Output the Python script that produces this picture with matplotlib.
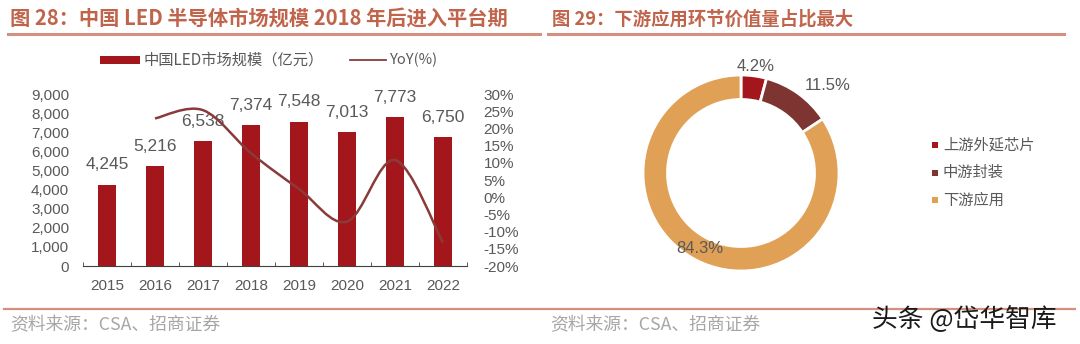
"""
Recreates two report panels: China LED market size (bars + YoY line)
and the value share by industry chain segment (donut).
"""

import matplotlib
matplotlib.use('Agg')
import matplotlib.pyplot as plt
from matplotlib.path import Path
from matplotlib.patches import PathPatch, Rectangle
from matplotlib.lines import Line2D
import numpy as np

# data
years = ['2015', '2016', '2017', '2018', '2019', '2020', '2021', '2022']
market_size = [4245, 5216, 6538, 7374, 7548, 7013, 7773, 6750]
yoy_pct = [None, 22.9, 25.3, 12.8, 2.4, -7.1, 10.8, -13.2]

segments = ['上游外延芯片', '中游封装', '下游应用']
segment_share = [4.2, 11.5, 84.3]

# styling
CJK = ['Noto Sans CJK SC', 'DejaVu Sans']
NUM = ['Liberation Sans', 'DejaVu Sans']
TITLE_COLOR = '#C0644C'
RULE_COLOR = '#D4907E'
TEXT_GRAY = '#595959'
BAR_COLOR = '#A3171C'
LINE_COLOR = '#8B3A3A'
DONUT_COLORS = ['#A3171C', '#7E3532', '#E0A157']

W, H = 1080, 344
fig = plt.figure(figsize=(W / 100, H / 100), dpi=100)


def fx(px):
    return px / W


def fy(py):
    return 1 - py / H


def smooth_path(xs, ys):
    # Catmull-Rom style smoothing drawn as cubic bezier segments
    xs = np.asarray(xs, float)
    ys = np.asarray(ys, float)
    verts = [(xs[0], ys[0])]
    codes = [Path.MOVETO]
    n = len(xs)
    for i in range(n - 1):
        p0 = (xs[max(i - 1, 0)], ys[max(i - 1, 0)])
        p1 = (xs[i], ys[i])
        p2 = (xs[i + 1], ys[i + 1])
        p3 = (xs[min(i + 2, n - 1)], ys[min(i + 2, n - 1)])
        c1 = (p1[0] + (p2[0] - p0[0]) / 6, p1[1] + (p2[1] - p0[1]) / 6)
        c2 = (p2[0] - (p3[0] - p1[0]) / 6, p2[1] - (p3[1] - p1[1]) / 6)
        verts += [c1, c2, p2]
        codes += [Path.CURVE4] * 3
    return Path(verts, codes)


# ---- headers and footers ----
fig.text(fx(10), fy(19), '图 28：中国 LED 半导体市场规模 2018 年后进入平台期',
         family=CJK, fontsize=14.6, fontweight='bold', color=TITLE_COLOR, va='center')
fig.text(fx(552), fy(19), '图 29：下游应用环节价值量占比最大',
         family=CJK, fontsize=13.2, fontweight='bold', color=TITLE_COLOR, va='center')
fig.add_artist(Line2D([fx(8), fx(540)], [fy(34), fy(34)], color=RULE_COLOR, lw=2.2))
fig.add_artist(Line2D([fx(548), fx(1064)], [fy(34), fy(34)], color=RULE_COLOR, lw=2.2))

fig.add_artist(Line2D([fx(4), fx(1075)], [fy(309), fy(309)], color=RULE_COLOR, lw=1.6))
fig.text(fx(10), fy(325), '资料来源：CSA、招商证券', family=CJK, fontsize=12.8,
         color='#A6A6A6', va='center')
fig.text(fx(550), fy(325), '资料来源：CSA、招商证券', family=CJK, fontsize=12.8,
         color='#A6A6A6', va='center')
fig.text(fx(872), fy(320), '头条 @岱华智库', family=CJK, fontsize=18.5,
         color='#1A1A1A', va='center')

# ---- legend for bar chart ----
fig.add_artist(Rectangle((fx(100), fy(64)), fx(40), 8 / H, transform=fig.transFigure,
                         facecolor=BAR_COLOR, edgecolor='none'))
fig.text(fx(144), fy(60), '中国LED市场规模（亿元）', family=CJK, fontsize=11,
         color=TEXT_GRAY, va='center')
fig.add_artist(Line2D([fx(350), fx(386)], [fy(60), fy(60)], color=LINE_COLOR, lw=1.3))
fig.text(fx(390), fy(60), 'YoY(%)', family=CJK, fontsize=10.5, color=TEXT_GRAY, va='center')

# ---- bar + line chart ----
ax = fig.add_axes([fx(83), fy(266), fx(384), 172 / H])
x = np.arange(len(years))
ax.bar(x, market_size, width=0.36, color=BAR_COLOR, zorder=2)
for xi, v in zip(x, market_size):
    ax.text(xi, v + 650, f'{v:,}', ha='center', va='bottom', family=NUM,
            fontsize=12.5, color=TEXT_GRAY, zorder=1)
ax.set_xlim(-0.5, len(years) - 0.5)
ax.set_ylim(0, 9000)
ax.set_yticks(range(0, 9001, 1000))
ax.set_yticklabels([f'{t:,}' for t in range(0, 9001, 1000)])
ax.set_xticks(x)
ax.set_xticklabels(years)
ax.set_xticks(np.arange(-0.5, len(years)), minor=True)
ax.tick_params(axis='x', which='major', length=0, pad=9, labelsize=11, labelcolor=TEXT_GRAY)
ax.tick_params(axis='x', which='minor', length=3, direction='in', color='#404040')
ax.tick_params(axis='y', length=0, pad=10, labelsize=11, labelcolor=TEXT_GRAY)
for lab in ax.get_xticklabels() + ax.get_yticklabels():
    lab.set_family(NUM)
for s in ['top', 'right', 'left']:
    ax.spines[s].set_visible(False)
ax.spines['bottom'].set_color('#404040')
ax.patch.set_visible(False)

ax2 = ax.twinx()
ax2.set_ylim(-20, 30)
ax2.set_yticks(range(-20, 31, 5))
ax2.set_yticklabels([f'{t}%' for t in range(-20, 31, 5)])
ax2.tick_params(axis='y', length=0, pad=12, labelsize=11, labelcolor=TEXT_GRAY)
for lab in ax2.get_yticklabels():
    lab.set_family(NUM)
for s in ax2.spines.values():
    s.set_visible(False)
yx = [xi for xi, v in zip(x, yoy_pct) if v is not None]
yv = [v for v in yoy_pct if v is not None]
ax2.add_patch(PathPatch(smooth_path(yx, yv), facecolor='none', edgecolor=LINE_COLOR,
                        lw=1.8, zorder=3))

# ---- donut chart ----
axp = fig.add_axes([fx(643), fy(271), fx(196), 196 / H])
wedges, _ = axp.pie(segment_share, colors=DONUT_COLORS, startangle=90, counterclock=False,
                    radius=1.0, wedgeprops=dict(width=0.25, edgecolor='white', linewidth=2))
axp.set_xlim(-1, 1)
axp.set_ylim(-1, 1)
axp.set_aspect('equal')
axp.axis('off')

# label distance and angular nudge per wedge
label_dist = [1.1, 1.26, 0.88]
label_shift = [0, -9, 0]
for w, share, d, sh in zip(wedges, segment_share, label_dist, label_shift):
    ang = np.deg2rad((w.theta1 + w.theta2) / 2 + sh)
    axp.text(d * np.cos(ang), d * np.sin(ang), f'{share}%', ha='center', va='center',
             family=NUM, fontsize=12, color=TEXT_GRAY, clip_on=False)

for i, (name, col) in enumerate(zip(segments, DONUT_COLORS)):
    yy = 145 + i * 27.5
    fig.add_artist(Rectangle((fx(932), fy(yy + 3)), fx(6), 6 / H, transform=fig.transFigure,
                             facecolor=col, edgecolor='none'))
    fig.text(fx(943), fy(yy), name, family=CJK, fontsize=11, color=TEXT_GRAY, va='center')

fig.savefig('out.png', dpi=100)
